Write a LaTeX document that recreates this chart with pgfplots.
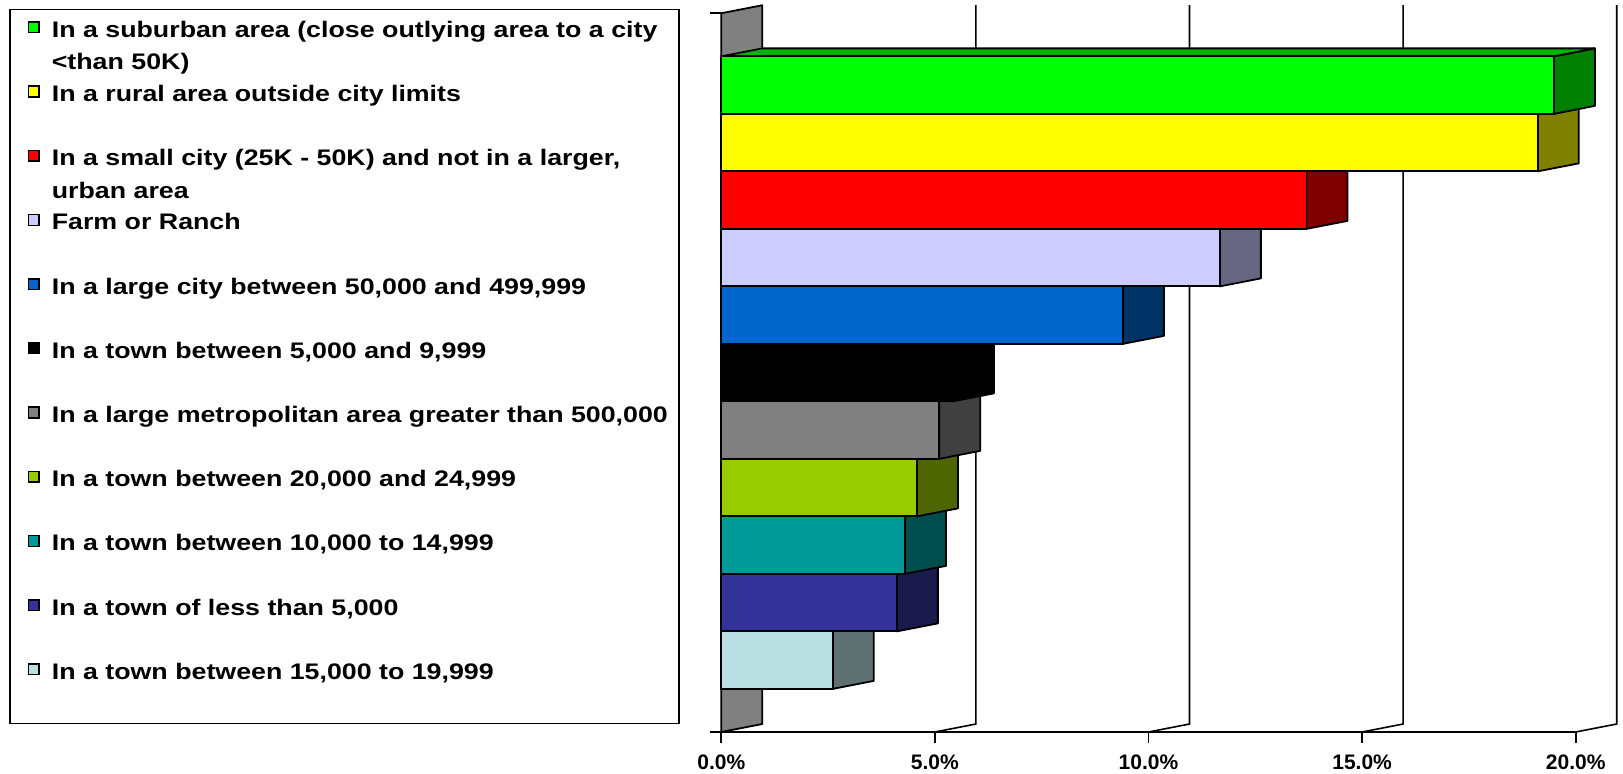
\documentclass[border=0pt]{standalone}
\usepackage{pgfplots}
\pgfplotsset{compat=1.18}
\usepackage{fontspec}
\setmainfont{Liberation Sans}
\newfontfamily\legfont[FakeStretch=1.19]{Liberation Sans}

% front / side / top colours
\definecolor{fA}{HTML}{00FF00}\definecolor{sA}{HTML}{008000}\definecolor{tA}{HTML}{00B300}
\definecolor{fB}{HTML}{FFFF00}\definecolor{sB}{HTML}{808000}\definecolor{tB}{HTML}{B3B300}
\definecolor{fC}{HTML}{FF0000}\definecolor{sC}{HTML}{800000}\definecolor{tC}{HTML}{B30000}
\definecolor{fD}{HTML}{CCCCFF}\definecolor{sD}{HTML}{666680}\definecolor{tD}{HTML}{8F8FB3}
\definecolor{fE}{HTML}{0066CC}\definecolor{sE}{HTML}{003366}\definecolor{tE}{HTML}{00478F}
\definecolor{fF}{HTML}{000000}\definecolor{sF}{HTML}{000000}\definecolor{tF}{HTML}{000000}
\definecolor{fG}{HTML}{808080}\definecolor{sG}{HTML}{404040}\definecolor{tG}{HTML}{5A5A5A}
\definecolor{fH}{HTML}{99CC00}\definecolor{sH}{HTML}{4D6600}\definecolor{tH}{HTML}{6B8F00}
\definecolor{fI}{HTML}{009999}\definecolor{sI}{HTML}{004D4D}\definecolor{tI}{HTML}{006B6B}
\definecolor{fJ}{HTML}{333399}\definecolor{sJ}{HTML}{1A1A4D}\definecolor{tJ}{HTML}{24246B}
\definecolor{fK}{HTML}{BBE0E3}\definecolor{sK}{HTML}{5E7072}\definecolor{tK}{HTML}{839D9F}
\definecolor{wallgray}{HTML}{808080}

\newcommand\ddx{0.96}
\newcommand\ddy{0.139}
% #1 slot (0 = bottom), #2 value (%), #3 colour key
\newcommand\tdbar[3]{%
  \pgfmathsetmacro\ya{#1+0.75}%
  \pgfmathsetmacro\yb{#1+1.75}%
  \pgfmathsetmacro\ym{#1+1.25}%
  \pgfmathsetmacro\xr{#2+\ddx}%
  \pgfmathsetmacro\yad{#1+0.75+\ddy}%
  \pgfmathsetmacro\ybd{#1+1.75+\ddy}%
  \edef\tmp{%
    \noexpand\addplot[forget plot, fill=s#3, draw=black, line width=1.8pt, line join=round]
      coordinates {(#2,\ya) (\xr,\yad) (\xr,\ybd) (#2,\yb)} -- cycle;
    \noexpand\addplot[forget plot, fill=t#3, draw=black, line width=1.8pt, line join=round]
      coordinates {(0,\yb) (\ddx,\ybd) (\xr,\ybd) (#2,\yb)} -- cycle;
    \noexpand\addplot[forget plot, xbar, bar width=1, bar shift=0pt, fill=f#3, draw=black, line width=1.8pt]
      coordinates {(#2,\ym)};
  }\tmp
}

\pgfplotsset{leg/.style={legend image code/.code={%
  \path[draw=none,fill=none] (-7.4pt,5pt) -- (10.7pt,5pt);
  \draw[fill=#1,draw=black,line width=1.5pt] (0pt,4.7pt) rectangle (10.7pt,15.4pt);}}}

\begin{document}
\begin{tikzpicture}
\path[use as bounding box] (0pt,0pt) rectangle (1623pt,774pt);
\begin{axis}[
  scale only axis,
  x=42.72pt, y=57.5pt,
  xmin=0, xmax=20, ymin=0, ymax=12.5,
  at={(721.3pt,42pt)}, anchor=south west,
  clip=false,
  axis line style={draw=none},
  xtick={0,5,10,15,20},
  xticklabels={0.0\%,5.0\%,10.0\%,15.0\%,20.0\%},
  ytick={0,12.5},
  yticklabels={},
  xtick pos=bottom, ytick pos=left,
  tick align=outside,
  major tick length=11pt,
  tick style={black, line width=1.6pt},
  xticklabel style={font=\fontsize{21}{25}\selectfont\bfseries, anchor=base, yshift=-26pt, inner sep=0pt},
  legend style={
    at={(-0.8333,1.00591)}, anchor=north west,
    draw=black, line width=1.3pt, fill=white,
    inner xsep=11pt, inner ysep=3.7pt,
    row sep=0pt, column sep=12pt,
    font=\legfont\fontsize{22.5}{32.6}\selectfont\bfseries,
    nodes={inner sep=0pt, text height=24pt, text depth=40.2pt},
    cells={anchor=base west},
  },
]
% back-wall gridlines
\addplot[forget plot, black, line width=1.6pt] coordinates {(5,0) (5.96,0.139) (5.96,12.639)};
\addplot[forget plot, black, line width=1.6pt] coordinates {(10,0) (10.96,0.139) (10.96,12.639)};
\addplot[forget plot, black, line width=1.6pt] coordinates {(15,0) (15.96,0.139) (15.96,12.639)};
\addplot[forget plot, black, line width=1.6pt] coordinates {(20,0) (20.96,0.139) (20.96,12.639)};
% axis line
\addplot[forget plot, black, line width=1.6pt] coordinates {(0,0) (20,0)};
% side wall
\addplot[forget plot, fill=wallgray, draw=black, line width=1.8pt, line join=round]
  coordinates {(0,0) (0.96,0.139) (0.96,12.639) (0,12.5)} -- cycle;

% bars, bottom to top
\tdbar{0}{2.61}{K}
\tdbar{1}{4.11}{J}
\tdbar{2}{4.30}{I}
\tdbar{3}{4.58}{H}
\tdbar{4}{5.10}{G}
\tdbar{5}{5.42}{F}
\tdbar{6}{9.40}{E}
\tdbar{7}{11.67}{D}
\tdbar{8}{13.70}{C}
\tdbar{9}{19.11}{B}
\tdbar{10}{19.49}{A}

% legend
\addlegendimage{leg=fA}
\addlegendentry{\vtop{\hbox{In a suburban area (close outlying area to a city}\hbox{<than 50K)}}}
\addlegendimage{leg=fB}
\addlegendentry{In a rural area outside city limits}
\addlegendimage{leg=fC}
\addlegendentry{\vtop{\hbox{In a small city (25K - 50K) and not in a larger,}\hbox{urban area}}}
\addlegendimage{leg=fD}
\addlegendentry{Farm or Ranch}
\addlegendimage{leg=fE}
\addlegendentry{In a large city between 50,000 and 499,999}
\addlegendimage{leg=fF}
\addlegendentry{In a town between 5,000 and 9,999}
\addlegendimage{leg=fG}
\addlegendentry{In a large metropolitan area greater than 500,000}
\addlegendimage{leg=fH}
\addlegendentry{In a town between 20,000 and 24,999}
\addlegendimage{leg=fI}
\addlegendentry{In a town between 10,000 to 14,999}
\addlegendimage{leg=fJ}
\addlegendentry{In a town of less than 5,000}
\addlegendimage{leg=fK}
\addlegendentry{In a town between 15,000 to 19,999}
\end{axis}
\end{tikzpicture}
\end{document}
